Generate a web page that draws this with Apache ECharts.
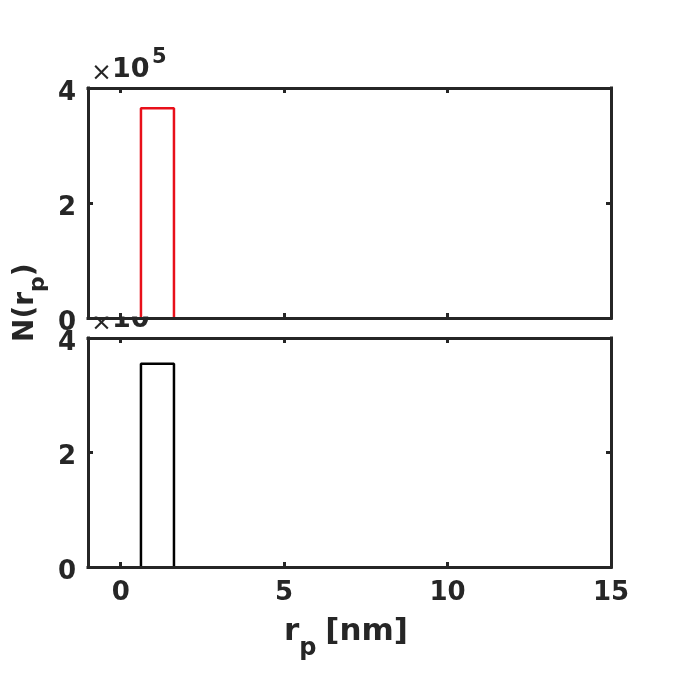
<!DOCTYPE html>
<html><head><meta charset="utf-8">
<script src="https://cdn.jsdelivr.net/npm/echarts@6/dist/echarts.min.js"></script>
<style>html,body{margin:0;padding:0;background:#fff}#c{width:675px;height:675px}</style>
</head><body><div id="c"></div>
<script>
// ---- data ----
const binEdges = [0.62, 1.63];
const topCounts = [365000];
const bottomCounts = [355000];
const xTickValues = [0, 5, 10, 15];
const xRange = [-1, 15];
const yRange = [0, 400000];
const yStep = 200000;
const yScale = 1e5;

function stairs(edges, counts) {
  const pts = [[edges[0], 0]];
  for (let i = 0; i < counts.length; i++) {
    pts.push([edges[i], counts[i]]);
    pts.push([edges[i + 1], counts[i]]);
  }
  pts.push([edges[edges.length - 1], 0]);
  return pts;
}

const FONT = 'DejaVu Sans';
const AX = '#262626';
const TS = 26;
const axisLine = { show: true, onZero: false, lineStyle: { color: AX, width: 3, cap: 'square' } };

function xAx(grid, pos, labels) {
  return {
    gridIndex: grid, type: 'value', position: pos, min: xRange[0], max: xRange[1], z: 5,
    axisLine: axisLine,
    axisTick: { show: true, inside: true, length: 5, lineStyle: { color: AX, width: 3 }, customValues: xTickValues },
    axisLabel: { show: labels, customValues: xTickValues, margin: 13, color: AX,
      fontFamily: FONT, fontWeight: 'bold', fontSize: TS },
    splitLine: { show: false }
  };
}
function yAx(grid, pos, labels) {
  return {
    gridIndex: grid, type: 'value', position: pos, min: yRange[0], max: yRange[1], interval: yStep, z: 5,
    axisLine: axisLine,
    axisTick: { show: true, inside: true, length: 5, lineStyle: { color: AX, width: 3 } },
    axisLabel: { show: labels, margin: 12, color: AX, fontFamily: FONT, fontWeight: 'bold', fontSize: TS,
      verticalAlign: 'top', lineHeight: 10, formatter: v => String(v / yScale) },
    splitLine: { show: false }
  };
}

const mctx = document.createElement('canvas').getContext('2d');
function tw(t, size, weight) { mctx.font = (weight || 'bold') + ' ' + size + 'px "' + FONT + '"'; return mctx.measureText(t).width; }

function txt(t, x, y, size, weight, z) {
  return { type: 'text', x: x, y: y, z: z === undefined ? 6 : z,
    style: { text: t, fill: AX, font: (weight || 'bold') + ' ' + size + 'px "' + FONT + '"',
      textAlign: 'left', textVerticalAlign: 'middle' } };
}

function exponent(dy, z) {
  return [
    txt('×', 91, 73 + dy, 25, 'normal', z),
    txt('10', 112, 70 + dy, 27, 'bold', z),
    txt('5', 152, 58 + dy, 21, 'bold', z)
  ];
}

const XLS = 31, XSS = 24;
// x label: r_p [nm]
const xl0 = 284;
const wr = tw('r', XLS);
const wp = tw('p', XSS);
const xLabel = [
  txt('r', xl0, 632, XLS),
  txt('p', xl0 + wr, 649, XSS),
  txt('[nm]', xl0 + wr + wp + tw(' ', XLS) - 2, 632, XLS)
];
// y label: N(r_p)
const YLS = 28, YSS = 22;
const wN = tw('N(r', YLS);
const wpy = tw('p', YSS);
const yLabel = {
  type: 'group', x: 26, y: 342, rotation: Math.PI / 2, z: 6,
  children: [
    { type: 'text', x: 0, y: 0, style: { text: 'N(r', fill: AX, font: 'bold ' + YLS + 'px "' + FONT + '"', textVerticalAlign: 'middle' } },
    { type: 'text', x: wN, y: 12, style: { text: 'p', fill: AX, font: 'bold ' + YSS + 'px "' + FONT + '"', textVerticalAlign: 'middle' } },
    { type: 'text', x: wN + wpy, y: 0, style: { text: ')', fill: AX, font: 'bold ' + YLS + 'px "' + FONT + '"', textVerticalAlign: 'middle' } }
  ]
};

const chart = echarts.init(document.getElementById('c'), null, { renderer: 'canvas' });
chart.setOption({
  animation: false,
  backgroundColor: '#fff',
  grid: [
    { left: 88, top: 88, width: 523, height: 230 },
    { left: 88, top: 338, width: 523, height: 229 }
  ],
  xAxis: [xAx(0, 'bottom', false), xAx(0, 'top', false), xAx(1, 'bottom', true), xAx(1, 'top', false)],
  yAxis: [yAx(0, 'left', true), yAx(0, 'right', false), yAx(1, 'left', true), yAx(1, 'right', false)],
  series: [
    { type: 'line', xAxisIndex: 0, yAxisIndex: 0, data: stairs(binEdges, topCounts), symbol: 'none', z: 3,
      lineStyle: { color: '#e8101a', width: 2.5 } },
    { type: 'line', xAxisIndex: 2, yAxisIndex: 2, data: stairs(binEdges, bottomCounts), symbol: 'none', z: 3,
      lineStyle: { color: '#000', width: 2.5 } }
  ],
  graphic: [].concat(
    exponent(0, 6),
    exponent(250, 0),
    [{ type: 'rect', shape: { x: 89.5, y: 290, width: 130, height: 26.5 }, style: { fill: '#fff' }, z: 1 }],
    xLabel,
    [yLabel]
  )
});
</script></body></html>
